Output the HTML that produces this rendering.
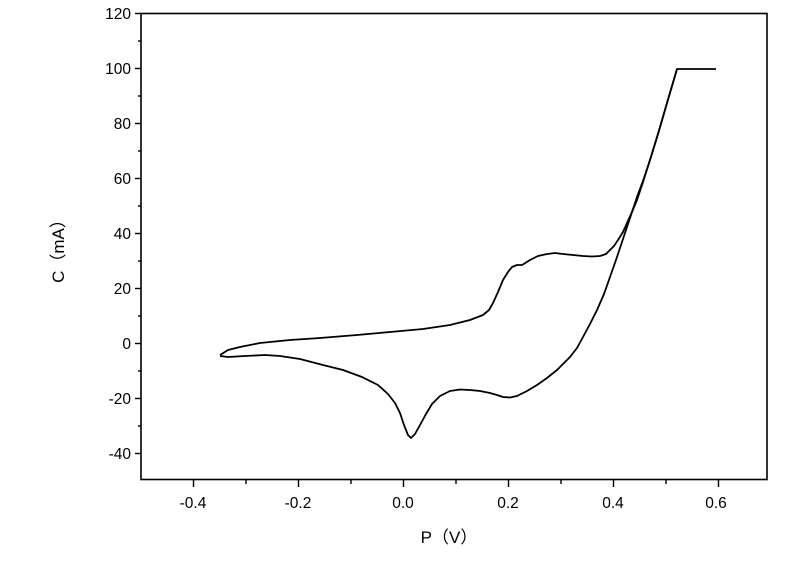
<!DOCTYPE html>
<html><head><meta charset="utf-8"><style>
body{margin:0;background:#fff}
svg text{font-family:"Liberation Sans","Noto Sans CJK SC",sans-serif;font-size:15.5px;fill:#000}
</style></head><body>
<svg width="800" height="563" viewBox="0 0 800 563" xmlns="http://www.w3.org/2000/svg">
<rect x="141" y="13.5" width="626" height="466" fill="none" stroke="#000" stroke-width="1.6"/>
<g stroke="#000" stroke-width="1.4">
<line x1="135" y1="13.5" x2="141" y2="13.5"/><line x1="135" y1="68.5" x2="141" y2="68.5"/>
<line x1="135" y1="123.5" x2="141" y2="123.5"/><line x1="135" y1="178.5" x2="141" y2="178.5"/>
<line x1="135" y1="233.5" x2="141" y2="233.5"/><line x1="135" y1="288.5" x2="141" y2="288.5"/>
<line x1="135" y1="343.5" x2="141" y2="343.5"/><line x1="135" y1="398.5" x2="141" y2="398.5"/>
<line x1="135" y1="453.5" x2="141" y2="453.5"/>
<line x1="138" y1="41" x2="141" y2="41"/><line x1="138" y1="96" x2="141" y2="96"/>
<line x1="138" y1="151" x2="141" y2="151"/><line x1="138" y1="206" x2="141" y2="206"/>
<line x1="138" y1="261" x2="141" y2="261"/><line x1="138" y1="316" x2="141" y2="316"/>
<line x1="138" y1="371" x2="141" y2="371"/><line x1="138" y1="426" x2="141" y2="426"/>
<line x1="193.5" y1="479" x2="193.5" y2="487"/><line x1="298.5" y1="479" x2="298.5" y2="487"/>
<line x1="403.5" y1="479" x2="403.5" y2="487"/><line x1="508.5" y1="479" x2="508.5" y2="487"/>
<line x1="613.5" y1="479" x2="613.5" y2="487"/><line x1="718.5" y1="479" x2="718.5" y2="487"/>
<line x1="246" y1="479" x2="246" y2="484"/><line x1="351" y1="479" x2="351" y2="484"/>
<line x1="456" y1="479" x2="456" y2="484"/><line x1="561" y1="479" x2="561" y2="484"/>
<line x1="666" y1="479" x2="666" y2="484"/>
</g>
<g text-anchor="end">
<text x="131" y="19">120</text><text x="131" y="74">100</text><text x="131" y="129">80</text>
<text x="131" y="184">60</text><text x="131" y="239">40</text><text x="131" y="294">20</text>
<text x="131" y="349">0</text><text x="131" y="404">-20</text><text x="131" y="459">-40</text>
</g>
<g text-anchor="middle">
<text x="193" y="508">-0.4</text><text x="298" y="508">-0.2</text><text x="403" y="508">0.0</text>
<text x="508" y="508">0.2</text><text x="613" y="508">0.4</text><text x="716" y="508">0.6</text>
<text x="449" y="543" style="font-size:17px">P（V）</text>
<text transform="translate(64,247) rotate(-90)" style="font-size:17px">C（mA）</text>
</g>
<polyline fill="none" stroke="#000" stroke-width="1.8" stroke-linejoin="round" points="
220,355 228,350 240,347 260,343 290,340 320,338 357,335 390,332 423,329 450,325 470,320 483,315 489,310 493,303 498,292 503,280 508,272 512,267 517,265 522,265 530,260 538,256 547,254 555,253 563,254 573,255 583,256 592,256.5 600,256 606,254 610,250 614,246 618,240 623,232 627,223 632,212 637,200 643,182 650,160 658,134 667,103 677,69 716,69"/>
<polyline fill="none" stroke="#000" stroke-width="1.8" stroke-linejoin="round" points="
677,69 667,103 658,134 650,160 643,181 637,197 632,212 627,227 622,242 617,257 610,277 604,294 597,310 590,324 583,337 577,348 570,357 563,364 557,370 547,378 537,385 527,391 517,396 510,397.5 503,397 497,395 490,393 480,391 470,390 460,389.5 450,391 440,396 432,404 426,414 420,425 415,434 411,438 408,435 404,425 400,413 395,403 388,394 378,385 362,377 343,370 323,365 300,359 280,356 265,355 245,356 228,357 220,356"/>
</svg>
</body></html>
